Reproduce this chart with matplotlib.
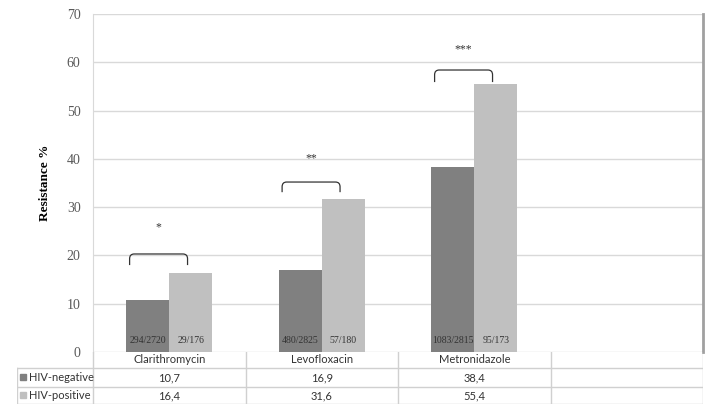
import numpy as np
import matplotlib.pyplot as plt
from matplotlib.path import Path
from matplotlib.patches import PathPatch

drugs = ["Clarithromycin", "Levofloxacin", "Metronidazole"]
hiv_neg = [10.7, 16.9, 38.4]
hiv_pos = [16.4, 31.6, 55.4]
neg_counts = ["294/2720", "480/2825", "1083/2815"]
pos_counts = ["29/176", "57/180", "95/173"]
stars = ["*", "**", "***"]
bracket_top = [20.3, 35.2, 58.4]
bracket_bot = [18.0, 33.1, 55.9]
star_y = [25.9, 40.2, 62.7]

c_neg = "#808080"
c_pos = "#c0c0c0"
grid_c = "#d9d9d9"
txt_c = "#595959"
sans = ["Lato", "DejaVu Sans"]
serif = ["Liberation Serif", "DejaVu Serif"]

W, H = 709, 405
fig = plt.figure(figsize=(W / 100, H / 100), dpi=100)
ax = fig.add_axes([93 / W, (H - 352) / H, 610 / W, 338 / H])

x = np.arange(len(drugs))
bw = 0.283
ax.bar(x - bw / 2, hiv_neg, bw, color=c_neg, zorder=2)
ax.bar(x + bw / 2, hiv_pos, bw, color=c_pos, zorder=2)

for i in range(len(drugs)):
    ax.text(x[i] - bw / 2, 2.3, neg_counts[i], ha="center", va="center",
            fontsize=7, family=serif, color="#333333", zorder=3)
    ax.text(x[i] + bw / 2, 2.3, pos_counts[i], ha="center", va="center",
            fontsize=7, family=serif, color="#333333", zorder=3)
    # bracket with rounded corners
    x0, x1 = x[i] - 0.26, x[i] + 0.12
    t, b = bracket_top[i], bracket_bot[i]
    rx, ry = 0.03, 1.0
    verts = [(x0, b), (x0, t - ry), (x0, t), (x0 + rx, t),
             (x1 - rx, t), (x1, t), (x1, t - ry), (x1, b)]
    codes = [Path.MOVETO, Path.LINETO, Path.CURVE3, Path.CURVE3,
             Path.LINETO, Path.CURVE3, Path.CURVE3, Path.LINETO]
    ax.add_patch(PathPatch(Path(verts, codes), fill=False, lw=0.9,
                           edgecolor="#333333", zorder=3))
    ax.text((x0 + x1) / 2, star_y[i], stars[i], ha="center", va="center",
            fontsize=8.5, family=serif, color="#333333")

ax.set_xlim(-0.5, 3.5)
ax.set_ylim(0, 70)
ax.set_yticks(np.arange(0, 71, 10))
ax.set_xticks([])
ax.yaxis.grid(True, color=grid_c, lw=1.0, zorder=0)
ax.tick_params(axis="y", length=0, pad=9, labelsize=10, labelcolor=txt_c)
for lab in ax.get_yticklabels():
    lab.set_family(serif)
for s in ["top", "bottom"]:
    ax.spines[s].set_visible(False)
ax.spines["left"].set_color(grid_c)
ax.spines["right"].set_color("#a0a0a0")
ax.spines["right"].set_linewidth(2)
ax.set_ylabel("Resistance %", family=serif, fontweight="bold", fontsize=9.5,
              labelpad=11)

# data table under the plot
tb = fig.add_axes([17 / W, (H - 404) / H, 686 / W, 52 / H])
tb.set_xlim(-1.0, 3.5)
tb.set_ylim(404, 352)
tb.axis("off")
lc = "#d0d0d0"
for yy in [368, 387, 404]:
    tb.plot([-1.0, 3.5], [yy, yy], color=lc, lw=1)
tb.plot([-1.0, -1.0], [368, 404], color=lc, lw=1)
for xx in np.arange(-0.5, 3.6, 1.0):
    tb.plot([xx, xx], [352, 404], color=lc, lw=1)
for i in range(len(drugs)):
    tb.text(x[i], 360, drugs[i], ha="center", va="center", fontsize=8,
            family=sans, color="#333333")
    tb.text(x[i], 377.5, f"{hiv_neg[i]:.1f}".replace(".", ","), ha="center",
            va="center", fontsize=8, family=sans, color="#333333")
    tb.text(x[i], 395.5, f"{hiv_pos[i]:.1f}".replace(".", ","), ha="center",
            va="center", fontsize=8, family=sans, color="#333333")
for yy, lab, col in [(377.5, "HIV-negative", c_neg), (395.5, "HIV-positive", c_pos)]:
    tb.plot([-0.96], [yy], marker="s", ms=4.5, color=col, ls="none")
    tb.text(-0.92, yy, lab, ha="left", va="center", fontsize=8, family=sans,
            color="#333333")

fig.savefig("out.png", dpi=100)
